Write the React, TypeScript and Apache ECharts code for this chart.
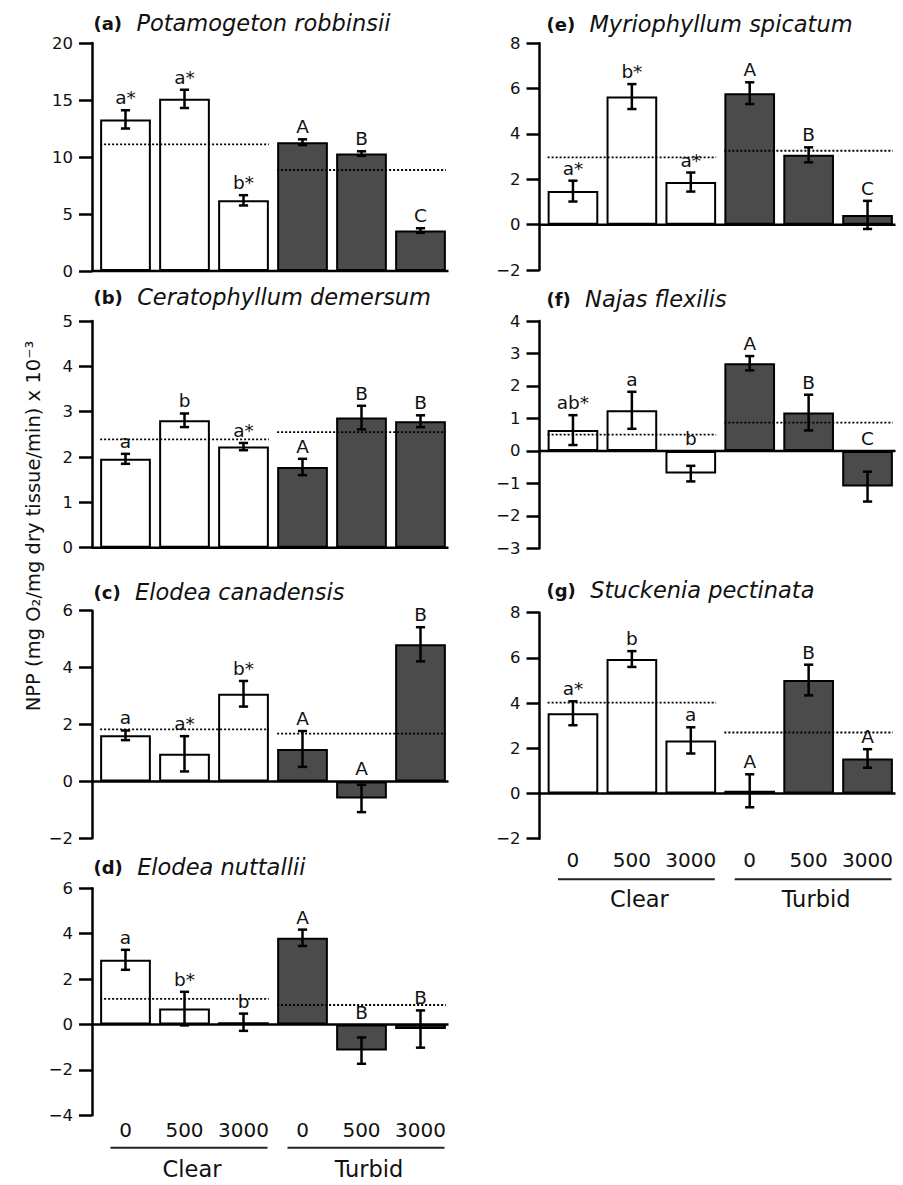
import React, { useEffect, useRef } from "react";
import * as echarts from "echarts";

const FONT = '"DejaVu Sans", "Liberation Sans", Arial, sans-serif';

// ---------------- data ----------------
const panelTags = ["(a)", "(b)", "(c)", "(d)", "(e)", "(f)", "(g)"];
const speciesNames = [
  "Potamogeton robbinsii",
  "Ceratophyllum demersum",
  "Elodea canadensis",
  "Elodea nuttallii",
  "Myriophyllum spicatum",
  "Najas flexilis",
  "Stuckenia pectinata",
];
const categoryKeys = ["Clear-0", "Clear-500", "Clear-3000", "Turbid-0", "Turbid-500", "Turbid-3000"];
const doseLabels = ["0", "500", "3000", "0", "500", "3000"];
const groupNames = ["Clear", "Turbid"];
const groupSpans = [
  [0, 2],
  [3, 5],
];
const yTitle = "NPP (mg O\u2082/mg dry tissue/min) x 10\u207B\u00B3";

// NPP means, standard errors, group means (Clear, Turbid) and letters
const nppA = [13.3, 15.1, 6.2, 11.3, 10.3, 3.55];
const seA = [0.8, 0.8, 0.45, 0.25, 0.2, 0.2];
const groupMeanA = [11.1, 8.86];
const lettersA = ["a*", "a*", "b*", "A", "B", "C"];

const nppB = [1.96, 2.81, 2.23, 1.78, 2.87, 2.79];
const seB = [0.11, 0.15, 0.08, 0.18, 0.26, 0.13];
const groupMeanB = [2.39, 2.55];
const lettersB = ["a", "b", "a*", "A", "B", "B"];

const nppC = [1.62, 0.97, 3.08, 1.14, -0.6, 4.82];
const seC = [0.17, 0.62, 0.45, 0.63, 0.48, 0.6];
const groupMeanC = [1.83, 1.68];
const lettersC = ["a", "a*", "b*", "A", "A", "B"];

const nppD = [2.85, 0.7, 0.1, 3.82, -1.15, -0.2];
const seD = [0.44, 0.74, 0.38, 0.36, 0.58, 0.82];
const groupMeanD = [1.13, 0.86];
const lettersD = ["a", "b*", "b", "A", "B", "B"];

const nppE = [1.48, 5.65, 1.88, 5.8, 3.08, 0.43];
const seE = [0.46, 0.55, 0.42, 0.48, 0.33, 0.62];
const groupMeanE = [2.97, 3.26];
const lettersE = ["a*", "b*", "a*", "A", "B", "C"];

const nppF = [0.64, 1.25, -0.7, 2.7, 1.18, -1.1];
const seF = [0.46, 0.57, 0.24, 0.22, 0.55, 0.46];
const groupMeanF = [0.5, 0.87];
const lettersF = ["ab*", "a", "b", "A", "B", "C"];

const nppG = [3.55, 5.95, 2.35, 0.12, 5.02, 1.55];
const seG = [0.53, 0.35, 0.58, 0.73, 0.68, 0.41];
const groupMeanG = [4.02, 2.7];
const lettersG = ["a*", "b", "a", "A", "B", "A"];

// y-axis ranges / tick steps
const yMinList = [0, 0, -2, -4, -2, -3, -2];
const yMaxList = [20, 5, 6, 6, 8, 4, 8];
const yStepList = [5, 1, 2, 2, 2, 1, 2];

const nppList = [nppA, nppB, nppC, nppD, nppE, nppF, nppG];
const seList = [seA, seB, seC, seD, seE, seF, seG];
const groupMeanList = [groupMeanA, groupMeanB, groupMeanC, groupMeanD, groupMeanE, groupMeanF, groupMeanG];
const lettersList = [lettersA, lettersB, lettersC, lettersD, lettersE, lettersF, lettersG];

// ---------------- layout / style ----------------
type Layout = {
  left: number;
  top: number;
  width: number;
  height: number;
  titleX: number;
  titleY: number;
  doseMargin?: number;
  lineOffset?: number;
  groupLabelOffset?: number;
};
const layouts: Layout[] = [
  { left: 96, top: 43, width: 354, height: 228, titleX: 93.5, titleY: 23 },
  { left: 96, top: 321, width: 354, height: 226.7, titleX: 93.5, titleY: 297 },
  { left: 96, top: 610.7, width: 354, height: 227.6, titleX: 93.5, titleY: 592 },
  { left: 96, top: 888.3, width: 354, height: 227, titleX: 93.5, titleY: 867, doseMargin: 5, lineOffset: 32.4, groupLabelOffset: 53.5 },
  { left: 543.5, top: 43.3, width: 353.5, height: 226.7, titleX: 546.5, titleY: 24 },
  { left: 543.5, top: 321, width: 353.5, height: 227.3, titleX: 546.5, titleY: 299 },
  { left: 543.5, top: 612.7, width: 353.5, height: 226, titleX: 546.5, titleY: 590, doseMargin: 11, lineOffset: 40.6, groupLabelOffset: 60 },
];
const AXIS_OFFSET = 4;
const groupFill = ["#ffffff", "#4b4b4b"];
const INK = "#111";

function fmtTick(v: number) {
  return v < 0 ? "\u2212" + Math.abs(v) : String(v);
}

function buildOption() {
  const grids: any[] = [];
  const xAxes: any[] = [];
  const yAxes: any[] = [];
  const series: any[] = [];
  const graphics: any[] = [];

  layouts.forEach((L, k) => {
    const vals = nppList[k];
    const ses = seList[k];
    const gm = groupMeanList[k];
    const letters = lettersList[k];
    const yMin = yMinList[k];

    grids.push({ left: L.left, top: L.top, width: L.width, height: L.height, containLabel: false });

    const xi = xAxes.length;
    xAxes.push({
      type: "category",
      gridIndex: k,
      data: categoryKeys,
      axisLine: { show: false },
      axisTick: { show: false },
      axisLabel: { show: false },
      splitLine: { show: false },
    });
    if (L.doseMargin !== undefined) {
      xAxes.push({
        type: "category",
        gridIndex: k,
        data: categoryKeys,
        position: "bottom",
        axisLine: { show: false, onZero: false },
        axisTick: { show: false },
        splitLine: { show: false },
        axisLabel: {
          show: true,
          interval: 0,
          margin: L.doseMargin,
          fontSize: 20,
          fontFamily: FONT,
          color: INK,
          formatter: (_v: string, i: number) => doseLabels[i],
        },
      });
    }
    yAxes.push({
      type: "value",
      gridIndex: k,
      min: yMin,
      max: yMaxList[k],
      interval: yStepList[k],
      offset: AXIS_OFFSET,
      axisLine: { show: true, lineStyle: { color: "#000", width: 2.5 } },
      axisTick: { show: true, length: 13, lineStyle: { color: "#000", width: 2.5 } },
      axisLabel: { margin: 19, fontSize: 16.5, fontFamily: FONT, color: INK, formatter: fmtTick },
      splitLine: { show: false },
    });

    // bars
    series.push({
      type: "bar",
      xAxisIndex: xi,
      yAxisIndex: k,
      barWidth: "86%",
      silent: true,
      z: 2,
      itemStyle: { borderColor: "#000", borderWidth: 2 },
      data: vals.map((v, i) => ({ value: v, itemStyle: { color: groupFill[i < 3 ? 0 : 1] } })),
    });

    // zero line
    series.push({
      type: "custom",
      xAxisIndex: xi,
      yAxisIndex: k,
      silent: true,
      z: 5,
      encode: { x: [0, 1], y: 2 },
      data: [[0, categoryKeys.length - 1, 0]],
      renderItem: (_p: any, api: any) => {
        const a = api.coord([api.value(0), 0]);
        const b = api.coord([api.value(1), 0]);
        const bw = api.size([1, 0])[0];
        return {
          type: "line",
          shape: { x1: a[0] - bw / 2 - AXIS_OFFSET, y1: a[1], x2: b[0] + bw / 2 - 1.5, y2: b[1] },
          style: { stroke: "#000", lineWidth: 2.5 },
        };
      },
    });

    // group means (dotted)
    series.push({
      type: "custom",
      xAxisIndex: xi,
      yAxisIndex: k,
      silent: true,
      z: 6,
      encode: { x: [0, 1], y: 2 },
      data: groupSpans.map((s, g) => [s[0], s[1], gm[g]]),
      renderItem: (_p: any, api: any) => {
        const a = api.coord([api.value(0), api.value(2)]);
        const b = api.coord([api.value(1), api.value(2)]);
        const bw = api.size([1, 0])[0] * 0.43;
        return {
          type: "line",
          shape: { x1: a[0] - bw, y1: a[1], x2: b[0] + bw, y2: b[1] },
          style: { stroke: "#000", lineWidth: 1.8, lineDash: [2, 2] },
        };
      },
    });

    // error bars
    series.push({
      type: "custom",
      xAxisIndex: xi,
      yAxisIndex: k,
      silent: true,
      z: 7,
      encode: { x: 0, y: [1, 2] },
      data: vals.map((v, i) => [i, v - ses[i], v + ses[i]]),
      renderItem: (_p: any, api: any) => {
        const x = api.value(0);
        const lo = api.coord([x, api.value(1)]);
        const hi = api.coord([x, api.value(2)]);
        const h = 4.6;
        const st = { stroke: "#000", lineWidth: 2.5 };
        return {
          type: "group",
          children: [
            { type: "line", shape: { x1: hi[0], y1: hi[1], x2: lo[0], y2: lo[1] }, style: st },
            { type: "line", shape: { x1: hi[0] - h, y1: hi[1], x2: hi[0] + h, y2: hi[1] }, style: st },
            { type: "line", shape: { x1: lo[0] - h, y1: lo[1], x2: lo[0] + h, y2: lo[1] }, style: st },
          ],
        };
      },
    });

    // significance letters
    series.push({
      type: "custom",
      xAxisIndex: xi,
      yAxisIndex: k,
      silent: true,
      z: 8,
      encode: { x: 0, y: 1 },
      data: vals.map((v, i) => [i, Math.max(v + ses[i], 0)]),
      renderItem: (p: any, api: any) => {
        const pt = api.coord([api.value(0), api.value(1)]);
        return {
          type: "text",
          x: pt[0],
          y: pt[1] - 3,
          style: {
            text: letters[p.dataIndex],
            fontSize: 18.5,
            fontFamily: FONT,
            fill: INK,
            align: "center",
            verticalAlign: "bottom",
          },
        };
      },
    });

    // group underline and names
    if (L.lineOffset !== undefined) {
      const lineOff = L.lineOffset;
      const labOff = L.groupLabelOffset as number;
      series.push({
        type: "custom",
        xAxisIndex: xi,
        yAxisIndex: k,
        silent: true,
        z: 5,
        encode: { x: [0, 1], y: 2 },
        data: groupSpans.map((s) => [s[0], s[1], yMin]),
        renderItem: (p: any, api: any) => {
          const a = api.coord([api.value(0), api.value(2)]);
          const b = api.coord([api.value(1), api.value(2)]);
          const x1 = a[0] - 15;
          const x2 = b[0] + 24;
          return {
            type: "group",
            children: [
              {
                type: "line",
                shape: { x1, y1: a[1] + lineOff, x2, y2: a[1] + lineOff },
                style: { stroke: "#222", lineWidth: 2 },
              },
              {
                type: "text",
                x: (x1 + x2) / 2 + 3,
                y: a[1] + labOff,
                style: {
                  text: groupNames[p.dataIndex],
                  fontSize: 22.5,
                  fontFamily: FONT,
                  fill: INK,
                  align: "center",
                  verticalAlign: "middle",
                },
              },
            ],
          };
        },
      });
    }

    // panel title
    graphics.push({
      type: "text",
      x: L.titleX,
      y: L.titleY,
      silent: true,
      style: {
        text: `{b|${panelTags[k]}}{i|  ${speciesNames[k]}}`,
        verticalAlign: "middle",
        rich: {
          b: { fontWeight: "bold", fontSize: 18, fontFamily: FONT, fill: INK },
          i: { fontStyle: "italic", fontSize: 22.5, fontFamily: FONT, fill: INK },
        },
      },
    });
  });

  graphics.push({
    type: "text",
    x: 33,
    y: 526,
    rotation: Math.PI / 2,
    silent: true,
    style: {
      text: yTitle,
      fontSize: 19.5,
      fontFamily: FONT,
      fill: INK,
      align: "center",
      verticalAlign: "middle",
    },
  });

  return {
    animation: false,
    backgroundColor: "#ffffff",
    grid: grids,
    xAxis: xAxes,
    yAxis: yAxes,
    series,
    graphic: graphics,
  };
}

export default function App() {
  const ref = useRef<HTMLDivElement>(null);
  useEffect(() => {
    if (!ref.current) return;
    const chart = echarts.init(ref.current, undefined, { renderer: "svg", width: 903, height: 1185 });
    chart.setOption(buildOption() as any);
    return () => chart.dispose();
  }, []);
  return (
    <div
      ref={ref}
      style={{ position: "absolute", left: 0, top: 0, width: 903, height: 1185, background: "#fff" }}
    />
  );
}
